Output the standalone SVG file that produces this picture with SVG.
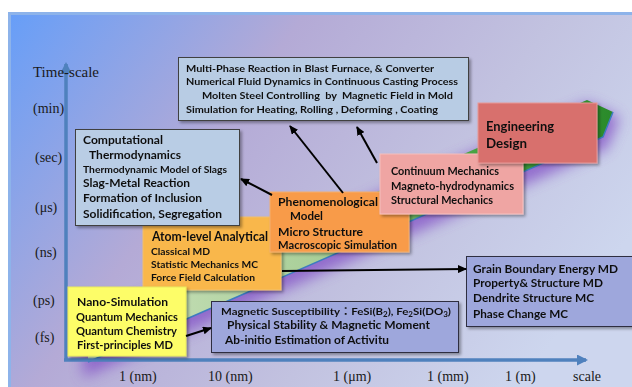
<svg xmlns="http://www.w3.org/2000/svg" width="632" height="387" viewBox="0 0 632 387">
<defs>
<linearGradient id="bg" gradientUnits="userSpaceOnUse" x1="8" y1="12" x2="520" y2="387">
<stop offset="0" stop-color="#669ef8"/>
<stop offset="0.38" stop-color="#b4aad6"/>
<stop offset="0.7" stop-color="#c2c2e0"/>
<stop offset="1" stop-color="#cdd6ee"/>
</linearGradient>
<linearGradient id="band" gradientUnits="userSpaceOnUse" x1="80" y1="0" x2="613" y2="0">
<stop offset="0" stop-color="#cfe3c0"/>
<stop offset="0.45" stop-color="#a8cf98"/>
<stop offset="0.72" stop-color="#4aa545"/>
<stop offset="1" stop-color="#2a8a2a"/>
</linearGradient>
<filter id="glow" x="-20%" y="-50%" width="140%" height="200%">
<feGaussianBlur stdDeviation="7"/>
</filter>
<filter id="sh" x="-10%" y="-10%" width="125%" height="130%">
<feDropShadow dx="2" dy="2" stdDeviation="1.5" flood-color="#000" flood-opacity="0.35"/>
</filter>
<marker id="ah" markerUnits="userSpaceOnUse" markerWidth="9" markerHeight="8" refX="8" refY="4" orient="auto">
<path d="M0,0 L9,4 L0,8 z" fill="#000"/>
</marker>
<marker id="axh" markerUnits="userSpaceOnUse" markerWidth="11" markerHeight="11" refX="9" refY="5.5" orient="auto">
<path d="M0,0 L11,5.5 L0,11 z" fill="#4f81bd"/>
</marker>
<style>
.ax{font-family:"Liberation Serif","Times New Roman",serif;font-size:14px;fill:#1a1a1a}
.t{font-family:Lato,"Noto Sans CJK JP",sans-serif;font-weight:700;fill:#111}
.box{filter:url(#sh)}
.con{fill:none;stroke:#000;stroke-width:2;marker-end:url(#ah)}
</style>
</defs>
<rect width="632" height="387" fill="#fff"/>
<rect x="9.5" y="13.5" width="640" height="400" fill="url(#bg)" stroke="#8db3ea" stroke-width="3"/>

<g id="band-shape">
<polygon points="88,362 603,137 613,112 587,100 88,318" fill="#8656c8" stroke="#8656c8" stroke-width="10" opacity="0.8" filter="url(#glow)" transform="translate(0,8)"/>
<polygon points="88,362 603,137 613,112 587,100 88,318" fill="url(#band)"/>
<polyline points="88,362 603,137 613,112" fill="none" stroke="#3c7cc0" stroke-width="1.5"/>
</g>

<g id="axes">
<line x1="66" y1="360" x2="66" y2="64" stroke="#4f81bd" stroke-width="3.5" marker-end="url(#axh)"/>
<line x1="64" y1="360" x2="586" y2="360" stroke="#4f81bd" stroke-width="3.5" marker-end="url(#axh)"/>
<text class="ax" x="33" y="77" font-size="15" textLength="66" lengthAdjust="spacingAndGlyphs">Time-scale</text>
<text class="ax" x="33" y="113">(min)</text>
<text class="ax" x="35" y="162">(sec)</text>
<text class="ax" x="35" y="212">(μs)</text>
<text class="ax" x="35" y="257">(ns)</text>
<text class="ax" x="33" y="305">(ps)</text>
<text class="ax" x="35" y="342">(fs)</text>
<text class="ax" x="119" y="381">1 (nm)</text>
<text class="ax" x="208" y="381">10 (nm)</text>
<text class="ax" x="333" y="381">1 (μm)</text>
<text class="ax" x="427" y="381">1 (mm)</text>
<text class="ax" x="505" y="381">1 (m)</text>
<text class="ax" x="573" y="381">scale</text>
</g>

<g id="multiphase" class="box">
<rect x="178.5" y="57.5" width="290" height="63" fill="#b8cce4" stroke="#3f3f3f"/>
<text class="t" font-size="10" x="186" y="72" textLength="248" lengthAdjust="spacingAndGlyphs">Multi-Phase Reaction in Blast Furnace, &amp; Converter</text>
<text class="t" font-size="10" x="186" y="85" textLength="272" lengthAdjust="spacingAndGlyphs">Numerical Fluid Dynamics in Continuous Casting Process</text>
<text class="t" font-size="10" x="202" y="99" textLength="251" lengthAdjust="spacingAndGlyphs" xml:space="preserve">Molten Steel Controlling  by  Magnetic Field in Mold</text>
<text class="t" font-size="10" x="186" y="113" textLength="252" lengthAdjust="spacingAndGlyphs">Simulation for Heating, Rolling , Deforming , Coating</text>
</g>

<g id="atom" class="box">
<rect x="143" y="217" width="138" height="73" fill="#f9b74b" stroke="#f0c070" stroke-width="1"/>
<text class="t" font-size="12.5" font-weight="500" x="152" y="241" textLength="116" lengthAdjust="spacingAndGlyphs">Atom-level Analytical</text>
<text class="t" font-size="10" x="151" y="255" textLength="59" lengthAdjust="spacingAndGlyphs">Classical MD</text>
<text class="t" font-size="10" x="151" y="268" textLength="107" lengthAdjust="spacingAndGlyphs">Statistic Mechanics MC</text>
<text class="t" font-size="10" x="151" y="281" textLength="104" lengthAdjust="spacingAndGlyphs">Force Field Calculation</text>
</g>

<g id="computational" class="box">
<rect x="75.5" y="129.5" width="164" height="96" fill="#b9cde5" stroke="#3f3f3f"/>
<text class="t" font-size="11.5" x="83" y="144" textLength="80" lengthAdjust="spacingAndGlyphs">Computational</text>
<text class="t" font-size="11.5" x="89" y="159" textLength="92" lengthAdjust="spacingAndGlyphs">Thermodynamics</text>
<text class="t" font-size="9.5" font-weight="500" x="83" y="173" textLength="144" lengthAdjust="spacingAndGlyphs">Thermodynamic Model of Slags</text>
<text class="t" font-size="11" x="83" y="187" textLength="107" lengthAdjust="spacingAndGlyphs">Slag-Metal Reaction</text>
<text class="t" font-size="11" x="83" y="202" textLength="119" lengthAdjust="spacingAndGlyphs">Formation of Inclusion</text>
<text class="t" font-size="11" x="83" y="218" textLength="139" lengthAdjust="spacingAndGlyphs">Solidification, Segregation</text>
</g>

<g id="nano" class="box">
<rect x="68" y="287" width="118" height="69" fill="#fdfd68" stroke="#eaea60" stroke-width="1"/>
<text class="t" font-size="12" x="77" y="306" textLength="91" lengthAdjust="spacingAndGlyphs">Nano-Simulation</text>
<text class="t" font-size="10.5" x="76" y="321" textLength="102" lengthAdjust="spacingAndGlyphs">Quantum Mechanics</text>
<text class="t" font-size="10.5" x="76" y="335" textLength="101" lengthAdjust="spacingAndGlyphs">Quantum Chemistry</text>
<text class="t" font-size="10.5" x="77" y="349" textLength="96" lengthAdjust="spacingAndGlyphs">First-principles MD</text>
</g>

<g id="magnetic" class="box">
<rect x="211.5" y="301.5" width="247" height="51" fill="#9ea7dc" stroke="#2f2f3f"/>
<text class="t" font-size="10" x="221" y="315" textLength="230" lengthAdjust="spacingAndGlyphs">Magnetic Susceptibility：FeSi(B<tspan font-size="7" dy="2">2</tspan><tspan dy="-2">), Fe</tspan><tspan font-size="7" dy="2">2</tspan><tspan dy="-2">Si(DO</tspan><tspan font-size="7" dy="2">3</tspan><tspan dy="-2">)</tspan></text>
<text class="t" font-size="10.5" x="227" y="329" textLength="203" lengthAdjust="spacingAndGlyphs">Physical Stability &amp; Magnetic Moment</text>
<text class="t" font-size="10.5" x="225" y="344" textLength="164" lengthAdjust="spacingAndGlyphs">Ab-initio Estimation of Activitu</text>
</g>

<g id="phenomenological" class="box">
<rect x="270" y="192" width="139" height="60" fill="#f89b48" stroke="#f3b070" stroke-width="1"/>
<text class="t" font-size="11.5" x="278" y="206" textLength="100" lengthAdjust="spacingAndGlyphs">Phenomenological</text>
<text class="t" font-size="11.5" x="290" y="220" textLength="33" lengthAdjust="spacingAndGlyphs">Model</text>
<text class="t" font-size="11" x="278" y="236" textLength="85" lengthAdjust="spacingAndGlyphs">Micro Structure</text>
<text class="t" font-size="11" x="278" y="249" textLength="119" lengthAdjust="spacingAndGlyphs">Macroscopic Simulation</text>
</g>

<g id="continuum" class="box">
<rect x="380" y="154" width="143" height="60" fill="#efa5a3" stroke="#f6c0be" stroke-width="1"/>
<text class="t" font-size="11" x="391" y="175" textLength="108" lengthAdjust="spacingAndGlyphs">Continuum Mechanics</text>
<text class="t" font-size="11" x="391" y="190" textLength="123" lengthAdjust="spacingAndGlyphs">Magneto-hydrodynamics</text>
<text class="t" font-size="11" x="391" y="204" textLength="102" lengthAdjust="spacingAndGlyphs">Structural Mechanics</text>
</g>

<g id="engineering" class="box">
<rect x="478" y="103" width="119" height="60" fill="#d86f6d" stroke="#e79a98" stroke-width="1"/>
<text class="t" font-size="14" font-weight="500" fill="#2a1515" x="486" y="131" textLength="68" lengthAdjust="spacingAndGlyphs">Engineering</text>
<text class="t" font-size="14" font-weight="500" fill="#2a1515" x="486" y="148" textLength="41" lengthAdjust="spacingAndGlyphs">Design</text>
</g>

<g id="grain" class="box">
<rect x="466.5" y="256.5" width="170" height="70" fill="#9ea7dc" stroke="#2f2f3f"/>
<text class="t" font-size="11" x="473" y="273" textLength="145" lengthAdjust="spacingAndGlyphs">Grain Boundary Energy MD</text>
<text class="t" font-size="11" x="473" y="287" textLength="130" lengthAdjust="spacingAndGlyphs">Property&amp; Structure MD</text>
<text class="t" font-size="11" x="473" y="302" textLength="121" lengthAdjust="spacingAndGlyphs">Dendrite Structure MC</text>
<text class="t" font-size="11" x="473" y="318" textLength="95" lengthAdjust="spacingAndGlyphs">Phase Change MC</text>
</g>

<g id="connectors">
<path class="con" d="M272,195 L241,179"/>
<path class="con" d="M343,193 L290,126"/>
<path class="con" d="M377,163 L357,127"/>
<path class="con" d="M282,271 L466,269"/>
<path class="con" d="M186,336 L211,328"/>
</g>
</svg>
